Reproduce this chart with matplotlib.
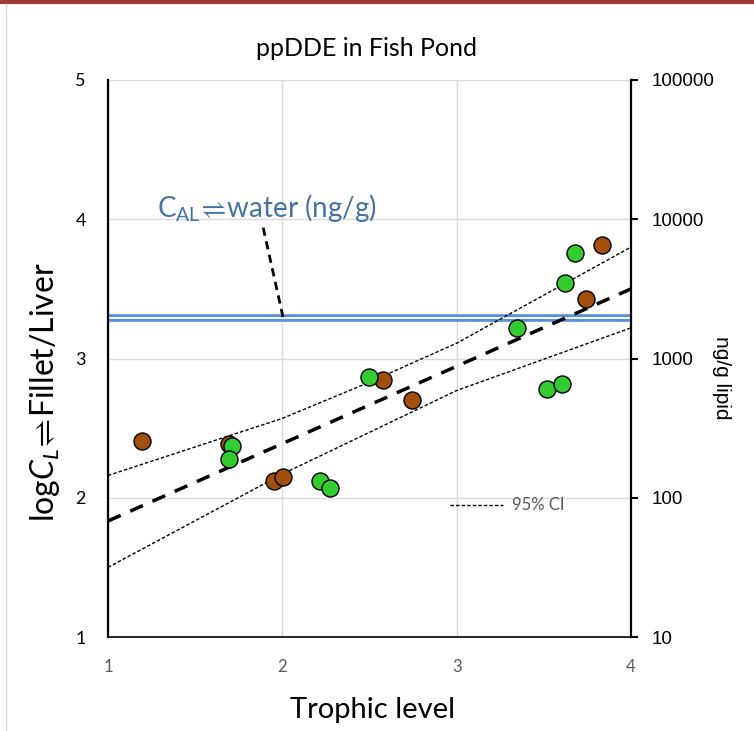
import matplotlib
matplotlib.use("Agg")
import matplotlib.pyplot as plt
from matplotlib.lines import Line2D

# ---- data ----
brown_x = [1.195, 1.694, 1.952, 2.002, 2.578, 2.742, 3.741, 3.834]
brown_y = [2.408, 2.386, 2.120, 2.151, 2.846, 2.702, 3.427, 3.817]
green_x = [1.71, 1.696, 2.218, 2.274, 2.496, 3.348, 3.521, 3.606, 3.624, 3.677]
green_y = [2.372, 2.281, 2.118, 2.072, 2.865, 3.219, 2.783, 2.819, 3.544, 3.760]
fit_x = [1, 4]
fit_y = [1.833, 3.50]
ci_x = [1, 2, 2.5, 3, 4]
ci_upper = [2.16, 2.57, 2.83, 3.11, 3.80]
ci_lower = [1.50, 2.17, 2.47, 2.77, 3.22]
cal_water = 3.29
x_ticks = [1, 2, 3, 4]
y_ticks = [1, 2, 3, 4, 5]
right_labels = ["10", "100", "1000", "10000", "100000"]

FONT = ["Lato", "DejaVu Sans"]
ARIAL = ["Liberation Sans", "DejaVu Sans"]
plt.rcParams['font.family'] = FONT
plt.rcParams['mathtext.fontset'] = 'custom'
plt.rcParams['mathtext.rm'] = 'Lato'
plt.rcParams['mathtext.it'] = 'Lato:italic'
plt.rcParams['mathtext.bf'] = 'Lato:bold'
plt.rcParams['mathtext.fallback'] = 'stixsans'

W, H = 754, 731
fig = plt.figure(figsize=(W/100, H/100), dpi=100)
ax = fig.add_axes([108/W, 1-637/H, (631-108)/W, (637-80)/H])
ax.set_xlim(1, 4)
ax.set_ylim(1, 5)

# grid
ax.set_xticks(x_ticks)
ax.set_yticks(y_ticks)
ax.grid(True, color="#d9d9d9", lw=1.0, zorder=0)
ax.set_axisbelow(True)
ax.tick_params(axis='x', length=0, labelsize=12, labelcolor="#595959", pad=16)
ax.tick_params(axis='y', length=0, labelsize=13, labelcolor="black", pad=16)
for s in ["top", "right"]:
    ax.spines[s].set_visible(False)
ax.spines["left"].set_linewidth(1.6)
ax.spines["bottom"].set_linewidth(1.2)

# C_AL water line (double blue line)
ax.axhline(cal_water, color="#5B8FD9", lw=5.5, zorder=2)
ax.axhline(cal_water, color="white", lw=1.3, zorder=2.1)

# CI lines
ax.plot(ci_x, ci_upper, color="black", lw=1.0, ls=(0, (2.5, 1.5)), zorder=3)
ax.plot(ci_x, ci_lower, color="black", lw=1.0, ls=(0, (2.5, 1.5)), zorder=3)
# regression
ax.plot(fit_x, fit_y, color="black", lw=2.5, ls=(0, (4, 3)), zorder=3)

# points
ax.scatter(brown_x, brown_y, s=150, c="#A0500A", edgecolors="black", linewidths=1.0, zorder=4)
ax.scatter(green_x, green_y, s=150, c="#33CC33", edgecolors="black", linewidths=1.0, zorder=4)

# annotation
fig.text(157/W, 1-208/H, r"C$_{\mathrm{AL}}\!\rightleftharpoons\!$water (ng/g)", color="#4472A4",
         fontsize=20, va="center", ha="left")
ax.plot([1.89, 2.005], [3.94, 3.29], color="black", lw=2.0, ls=(0, (3, 2)), zorder=3)

# CI legend
ax.plot([2.962, 3.266], [1.945, 1.945], color="black", lw=1.0, ls=(0, (2.5, 1.5)), zorder=3)
ax.text(3.318, 1.945, "95% CI", color="#595959", fontsize=12, va="center", ha="left")

# right axis
ax2 = ax.twinx()
ax2.set_ylim(1, 5)
ax2.set_yticks(y_ticks)
ax2.set_yticklabels(right_labels, family=ARIAL)
ax2.tick_params(axis='y', length=5, width=1.5, direction='out', labelsize=13.5, pad=10)
for s in ["top", "left", "bottom"]:
    ax2.spines[s].set_visible(False)
ax2.spines["right"].set_linewidth(1.6)
fig.text(722/W, 1-378/H, "ng/g lipid", rotation=270, fontsize=15, family=ARIAL,
         ha="center", va="center")

# labels
fig.text(367/W, 1-48/H, "ppDDE in Fish Pond", fontsize=18, ha="center", va="center")
fig.text(372/W, 1-710/H, "Trophic level", fontsize=21, ha="center", va="center")
fig.text(45/W, 1-392/H, r"log$C_L\!\rightleftharpoons\!$Fillet/Liver", fontsize=23, rotation=90,
         ha="center", va="center")

# frame decoration
fig.add_artist(Line2D([0, 1], [1-1.5/H, 1-1.5/H], color="#A0393A", lw=3, transform=fig.transFigure))
fig.add_artist(Line2D([6/W, 6/W], [0, 1-4/H], color="#d9d9d9", lw=1, transform=fig.transFigure))

fig.savefig("out.png", dpi=100)
